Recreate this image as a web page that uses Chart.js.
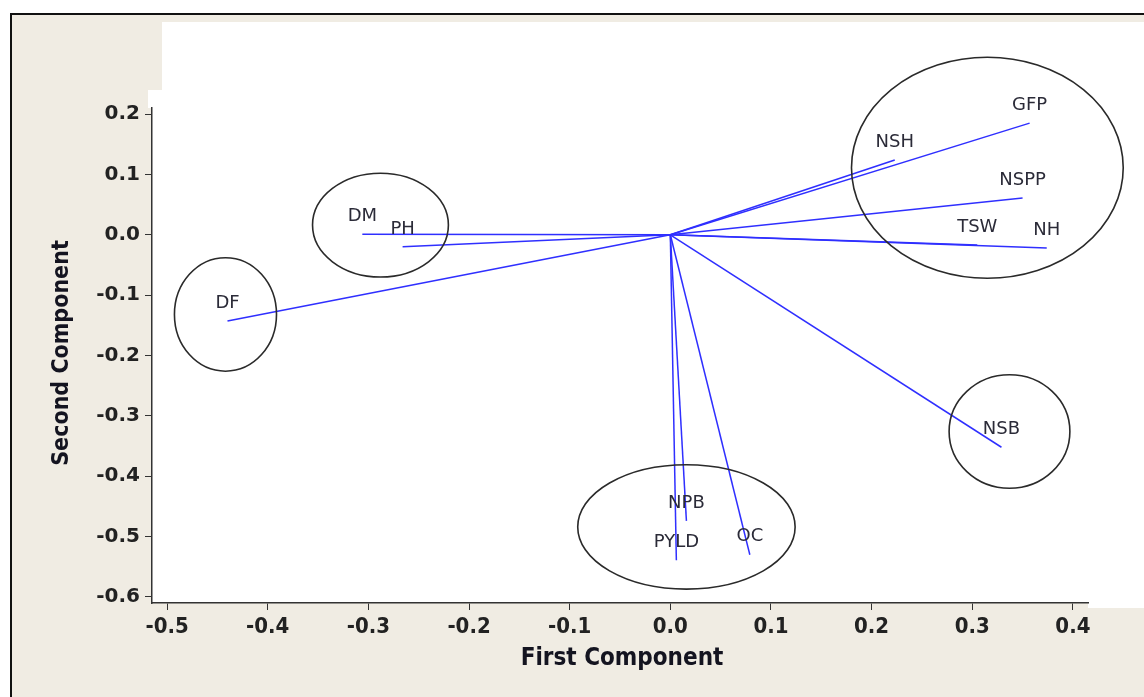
<!DOCTYPE html>
<html>
<head>
<meta charset="utf-8">
<script src="https://cdn.jsdelivr.net/npm/chart.js@4"></script>
<style>
  html, body { margin: 0; padding: 0; background: #ffffff; }
  #page { position: relative; width: 1144px; height: 697px; overflow: hidden; }
  .frame { position: absolute; left: 10px; top: 13px; width: 1200px; height: 760px;
           border: 2px solid #111; background: #f0ece3; }
  .white { position: absolute; background: #ffffff; }
  canvas { position: absolute; left: 0; top: 0; }
</style>
</head>
<body>
<div id="page">
  <div class="frame"></div>
  <div class="white" style="left:162px; top:22px; width:990px; height:70px;"></div>
  <div class="white" style="left:148px; top:90px; width:1000px; height:18px;"></div>
  <div class="white" style="left:152px; top:106px; width:1000px; height:497px;"></div>
  <div class="white" style="left:1088px; top:560px; width:60px; height:48px;"></div>
  <canvas id="loadingPlot" width="1144" height="697"></canvas>
</div>
<script>
// loading plot values
const varNames = ['GFP', 'NSH', 'NSPP', 'TSW', 'NH', 'DM', 'PH', 'DF', 'NSB', 'NPB', 'PYLD', 'OC'];
const firstComp = [0.357, 0.223, 0.350, 0.305, 0.374, -0.306, -0.266, -0.440, 0.329, 0.016, 0.006, 0.079];
const secondComp = [0.185, 0.124, 0.061, -0.017, -0.022, 0.001, -0.020, -0.143, -0.352, -0.474, -0.539, -0.530];

const xTicks = [-0.5, -0.4, -0.3, -0.2, -0.1, 0.0, 0.1, 0.2, 0.3, 0.4];
const yTicks = [0.2, 0.1, 0.0, -0.1, -0.2, -0.3, -0.4, -0.5, -0.6];

// hand-drawn group circles (in component units)
const groupCx = [0.315, -0.288, -0.442, 0.337, 0.016];
const groupCy = [0.111, 0.016, -0.132, -0.326, -0.484];
const groupRx = [0.135, 0.0675, 0.0507, 0.060, 0.108];
const groupRy = [0.183, 0.086, 0.094, 0.094, 0.103];

const lineBlue = '#2f2fff';
const textDark = '#2b2b38';

const datasets = varNames.map((name, i) => ({
    label: name,
    data: [{ x: 0, y: 0 }, { x: firstComp[i], y: secondComp[i] }],
    showLine: true,
    borderColor: lineBlue,
    borderWidth: 1.5,
    pointRadius: 0,
    pointHoverRadius: 0
}));

const extrasPlugin = {
    id: 'extras',
    afterDatasetsDraw(chart) {
        const { ctx, scales: { x, y } } = chart;
        ctx.save();
        // variable names just above each line's end
        ctx.fillStyle = textDark;
        ctx.font = '18px "DejaVu Sans", sans-serif';
        ctx.textAlign = 'center';
        ctx.textBaseline = 'middle';
        varNames.forEach((name, i) => {
            ctx.fillText(name, x.getPixelForValue(firstComp[i]), y.getPixelForValue(secondComp[i]) - 18);
        });
        // group ellipses
        ctx.strokeStyle = '#2a2a2a';
        ctx.lineWidth = 1.6;
        groupCx.forEach((cx, i) => {
            const px = x.getPixelForValue(cx);
            const py = y.getPixelForValue(groupCy[i]);
            const rx = Math.abs(x.getPixelForValue(cx + groupRx[i]) - px);
            const ry = Math.abs(y.getPixelForValue(groupCy[i] + groupRy[i]) - py);
            ctx.beginPath();
            ctx.ellipse(px, py, rx, ry, 0, 0, Math.PI * 2);
            ctx.stroke();
        });
        // axis titles
        ctx.fillStyle = '#141420';
        ctx.font = 'bold 24px "DejaVu Sans Condensed", "DejaVu Sans", sans-serif';
        ctx.fillText('First Component', 622, 659);
        ctx.translate(62, 353);
        ctx.rotate(-Math.PI / 2);
        ctx.font = 'bold 23px "DejaVu Sans Condensed", "DejaVu Sans", sans-serif';
        ctx.fillText('Second Component', 0, 0);
        ctx.restore();
    }
};

new Chart(document.getElementById('loadingPlot'), {
    type: 'scatter',
    data: { datasets },
    options: {
        responsive: false,
        animation: false,
        events: [],
        layout: { padding: { top: 108, right: 56, left: 0, bottom: 0 } },
        plugins: { legend: { display: false }, tooltip: { enabled: false } },
        scales: {
            x: {
                min: -0.515, max: 0.415,
                afterBuildTicks: s => { s.ticks = xTicks.map(v => ({ value: v })); },
                afterFit: s => { s.height = 94; },
                ticks: { font: { family: '"DejaVu Sans Condensed", "DejaVu Sans", sans-serif', size: 22, weight: 'bold' },
                         color: '#222', padding: 4, maxRotation: 0,
                         callback: v => v.toFixed(1) },
                grid: { drawOnChartArea: false, drawTicks: true, tickLength: 7, color: '#333' },
                border: { color: '#333', width: 1.5 }
            },
            y: {
                min: -0.61, max: 0.21,
                afterBuildTicks: s => { s.ticks = yTicks.map(v => ({ value: v })); },
                afterFit: s => { s.width = 152; },
                ticks: { font: { family: '"DejaVu Sans", sans-serif', size: 20, weight: 'bold' },
                         color: '#222', padding: 5,
                         callback: v => v.toFixed(1) },
                grid: { drawOnChartArea: false, drawTicks: true, tickLength: 7, color: '#333' },
                border: { color: '#333', width: 1.5 }
            }
        }
    },
    plugins: [extrasPlugin]
});
</script>
</body>
</html>
